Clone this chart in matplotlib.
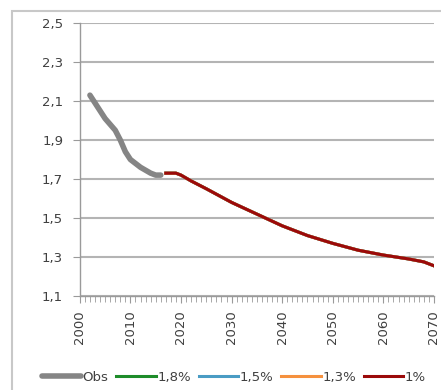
import matplotlib.pyplot as plt
from matplotlib.patches import Rectangle
from matplotlib.ticker import MultipleLocator, FixedLocator

# Observed values
obs_years = [2002, 2003, 2004, 2005, 2006, 2007, 2008, 2009, 2010, 2011,
             2012, 2013, 2014, 2015, 2016]
obs_vals = [2.13, 2.09, 2.05, 2.01, 1.98, 1.95, 1.90, 1.84, 1.80, 1.78,
            1.76, 1.745, 1.73, 1.72, 1.72]

# Projection (the scenarios overlap in the picture)
proj_years = [2017, 2019, 2020, 2022, 2025, 2030, 2035, 2040, 2045, 2050,
              2055, 2060, 2065, 2068, 2070]
proj_vals = [1.73, 1.73, 1.72, 1.69, 1.65, 1.58, 1.52, 1.46, 1.41, 1.37,
             1.335, 1.31, 1.29, 1.275, 1.255]

scenarios = ['1,8%', '1,5%', '1,3%', '1%']
scen_colors = ['#1e8c2a', '#4a9cc4', '#f5913e', '#9b0a0a']

yticks = [1.1, 1.3, 1.5, 1.7, 1.9, 2.1, 2.3, 2.5]
xticks = [2000, 2010, 2020, 2030, 2040, 2050, 2060, 2070]

plt.rcParams['font.family'] = ['DejaVu Sans']

fig = plt.figure(figsize=(4.41, 3.90), dpi=100)
ax = fig.add_axes([0.181, 0.241, 0.803, 0.700])

# outer chart frame
fig.patches.append(Rectangle((0.027, -0.01), 1.0, 0.982, transform=fig.transFigure,
                             fill=False, edgecolor='#c8c8c8', linewidth=1.5))

ax.plot(obs_years, obs_vals, color='#858585', linewidth=4, solid_capstyle='round',
        label='Obs', zorder=3)
for name, col in zip(scenarios, scen_colors):
    ax.plot(proj_years, proj_vals, color=col, linewidth=2.2, label=name, zorder=4)

ax.set_xlim(2000, 2070)
ax.set_ylim(1.1, 2.5)
ax.yaxis.set_major_locator(FixedLocator(yticks))
ax.xaxis.set_major_locator(FixedLocator(xticks))
ax.xaxis.set_minor_locator(MultipleLocator(1))
ax.set_yticklabels([f'{v:.1f}'.replace('.', ',') for v in yticks])
ax.set_xticklabels([str(v) for v in xticks], rotation=90)

ax.grid(axis='y', color='#b4b4b4', linewidth=1.5, zorder=1)
ax.set_axisbelow(True)
for s in ['top', 'right']:
    ax.spines[s].set_visible(False)
for s in ['left', 'bottom']:
    ax.spines[s].set_color('#9a9a9a')
    ax.spines[s].set_linewidth(1.0)

ax.tick_params(axis='y', length=5, color='#9a9a9a', labelsize=9.5,
               labelcolor='#404040', pad=7)
ax.tick_params(axis='x', which='major', length=5, color='#9a9a9a', labelsize=9.5,
               labelcolor='#404040', pad=5)
ax.tick_params(axis='x', which='minor', length=4, color='#9a9a9a')

fig.legend(loc='center', bbox_to_anchor=(0.53, 0.033), ncol=5, frameon=False,
           fontsize=9.5, handlelength=3.0, handletextpad=0.1, columnspacing=0.6,
           labelcolor='#404040')

fig.savefig('out.png', dpi=100)
